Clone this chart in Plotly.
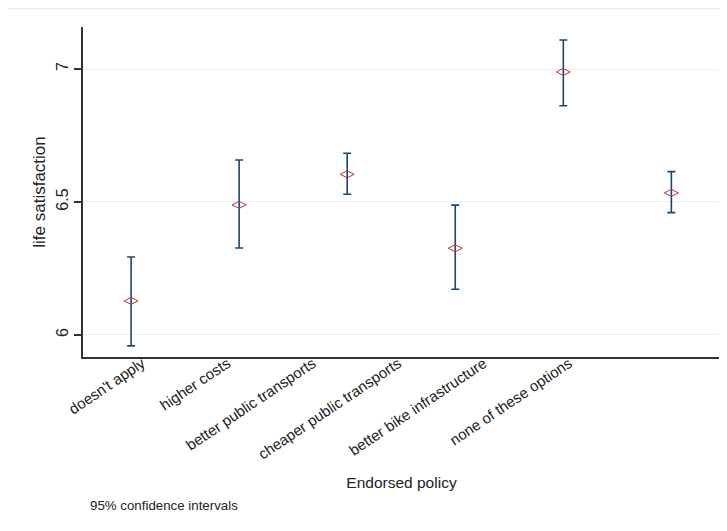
import plotly.graph_objects as go

categories = ["doesn't apply", "higher costs", "better public transports",
              "cheaper public transports", "better bike infrastructure",
              "none of these options"]
mean_vals = [6.128, 6.489, 6.604, 6.326, 6.989, 6.534]
lower_vals = [5.959, 6.327, 6.529, 6.172, 6.862, 6.460]
upper_vals = [6.293, 6.658, 6.683, 6.488, 7.109, 6.614]
y_ticks = [6, 6.5, 7]
y_tick_text = ["6", "6.5", "7"]

xpos = list(range(1, len(categories) + 1))
err_plus = [u - m for u, m in zip(upper_vals, mean_vals)]
err_minus = [m - l for m, l in zip(mean_vals, lower_vals)]

FONT = "Liberation Sans, Arial, sans-serif"

fig = go.Figure()
fig.add_trace(go.Scatter(
    x=xpos, y=mean_vals, mode="markers",
    marker=dict(symbol="diamond-wide-open", size=10, color="#b03a3a",
                line=dict(width=1, color="#b03a3a")),
    error_y=dict(type="data", symmetric=False, array=err_plus, arrayminus=err_minus,
                 color="#1a476f", thickness=1.6, width=4),
    showlegend=False,
))
# invisible carrier for the (compressed) category label axis
fig.add_trace(go.Scatter(x=xpos, y=mean_vals, xaxis="x2", mode="markers",
                         marker=dict(opacity=0), hoverinfo="skip", showlegend=False))

fig.update_layout(
    width=727, height=531,
    margin=dict(l=75, r=15, t=19, b=182),
    paper_bgcolor="white", plot_bgcolor="white",
    font=dict(family=FONT, size=13, color="#222"),
    xaxis=dict(
        range=[0.555, 6.45], tickvals=xpos, showticklabels=False,
        showgrid=False, zeroline=False,
        showline=True, linecolor="#333", linewidth=1.5, ticks="",
        title=dict(text="Endorsed policy", font=dict(size=15.5), standoff=119),
    ),
    xaxis2=dict(
        overlaying="x", anchor="y", side="bottom",
        range=[0.309, 7.768], tickvals=xpos, ticktext=categories,
        tickangle=-34, showgrid=False, zeroline=False, showline=False, ticks="",
        tickfont=dict(size=15), ticklabelstandoff=-6,
    ),
    yaxis=dict(
        range=[5.917, 7.158], tickvals=y_ticks, ticktext=y_tick_text,
        tickangle=-90, showgrid=True, gridcolor="#e9f1f2", gridwidth=1,
        zeroline=False, showline=True, linecolor="#333", linewidth=1.5,
        ticks="outside", ticklen=7, tickcolor="#333", tickwidth=1.5,
        tickfont=dict(size=16),
        title=dict(text="life satisfaction", font=dict(size=17), standoff=4),
    ),
    shapes=[dict(type="line", xref="paper", yref="paper",
                 x0=-0.118, x1=1.03, y0=1 + 18.5 / 330, y1=1 + 18.5 / 330,
                 line=dict(color="#e6eeee", width=1.5))],
    annotations=[dict(text="95% confidence intervals", xref="paper", yref="paper",
                      x=0.008, y=-0.4515, xanchor="left", yanchor="middle",
                      showarrow=False, font=dict(size=13.3, color="#222"))],
)

fig.write_html("out.html")
